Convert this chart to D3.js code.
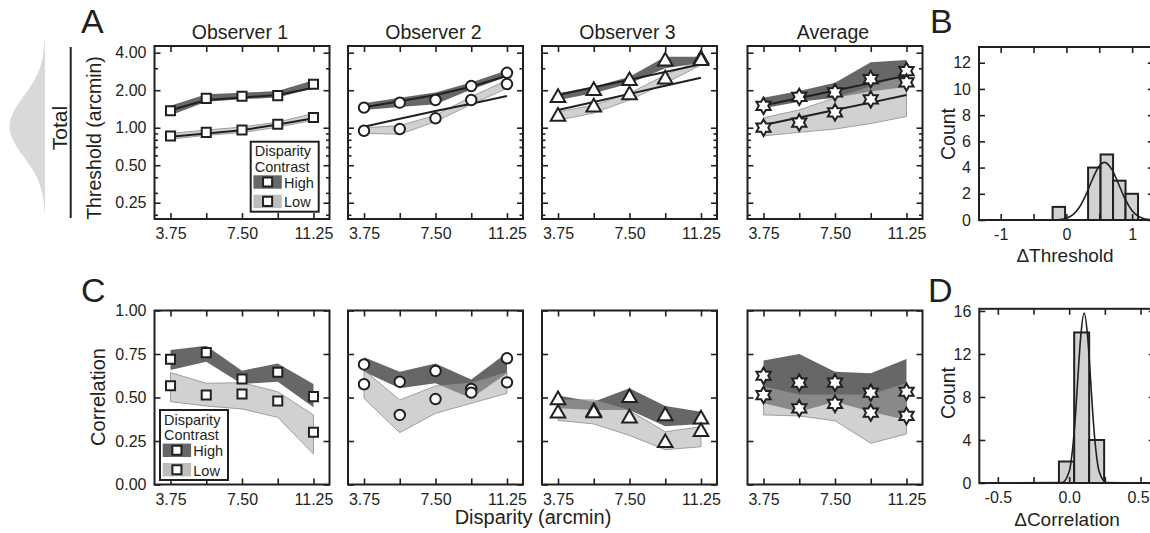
<!DOCTYPE html>
<html>
<head>
<meta charset="utf-8">
<script src="https://cdn.jsdelivr.net/npm/d3@7"></script>
<style>
  body { margin: 0; background: #fff; }
  svg text { font-family: "Liberation Sans", Arial, Helvetica, sans-serif; fill: #231f20; }
</style>
</head>
<body>
<div id="chart"></div>
<script>
// values
const disparities = [3.75, 5.625, 7.5, 9.375, 11.25];
const xTickLabels = ["3.75", "", "7.50", "", "11.25"];
const observers = ["Observer 1", "Observer 2", "Observer 3", "Average"];
const markerTypes = ["square", "circle", "triangle", "star"];

const thrTicks = [0.25, 0.5, 1, 2, 4];
const thrTickLabels = ["0.25", "0.50", "1.00", "2.00", "4.00"];
const thrMinorTicks = [0.2, 0.3, 0.4, 0.6, 0.7, 0.8, 0.9, 3];
const corTicks = [0, 0.25, 0.5, 0.75, 1];
const corTickLabels = ["0.00", "0.25", "0.50", "0.75", "1.00"];

// threshold (arcmin), one row per observer
const thrHigh = [
  [1.37, 1.72, 1.79, 1.81, 2.23],
  [1.45, 1.59, 1.67, 2.16, 2.76],
  [1.74, 1.98, 2.38, 3.42, 3.55],
  [1.50, 1.77, 1.92, 2.46, 2.85]
];
const thrHighLo = [
  [1.26, 1.62, 1.69, 1.75, 2.07],
  [1.39, 1.47, 1.54, 2.03, 2.57],
  [1.67, 1.89, 2.27, 3.00, 3.31],
  [1.43, 1.62, 1.74, 1.95, 2.13]
];
const thrHighHi = [
  [1.50, 1.86, 1.91, 1.97, 2.41],
  [1.57, 1.74, 1.92, 2.31, 2.90],
  [1.89, 2.13, 2.57, 3.72, 3.72],
  [1.74, 1.97, 2.30, 3.35, 3.50]
];
const thrHighFit = [
  [1.38, 1.67, 1.75, 1.83, 2.09],
  [1.46, 1.63, 1.83, 2.13, 2.61],
  [1.83, 2.11, 2.43, 2.80, 3.23],
  [1.51, 1.73, 1.99, 2.28, 2.61]
];
const thrLow = [
  [0.858, 0.918, 0.958, 1.065, 1.21],
  [0.946, 0.976, 1.19, 1.67, 2.24],
  [1.23, 1.46, 1.83, 2.45, 3.45],
  [1.00, 1.10, 1.33, 1.69, 2.31]
];
const thrLowLo = [
  [0.81, 0.869, 0.912, 1.01, 1.15],
  [0.90, 0.885, 1.12, 1.54, 2.07],
  [1.15, 1.31, 1.67, 2.27, 3.19],
  [0.86, 0.918, 0.976, 1.08, 1.23]
];
const thrLowHi = [
  [0.90, 0.958, 1.013, 1.11, 1.30],
  [1.00, 1.04, 1.26, 1.77, 2.41],
  [1.34, 1.52, 1.89, 2.65, 3.50],
  [1.20, 1.39, 1.74, 2.13, 2.65]
];
const thrLowFit = [
  [0.845, 0.90, 0.955, 1.06, 1.19],
  [1.02, 1.18, 1.36, 1.56, 1.80],
  [1.39, 1.61, 1.87, 2.17, 2.52],
  [1.05, 1.21, 1.39, 1.59, 1.83]
];

// correlation
const corHigh = [
  [0.72, 0.758, 0.606, 0.645, 0.505],
  [0.69, 0.591, 0.652, 0.549, 0.725],
  [0.486, 0.418, 0.499, 0.394, 0.375],
  [0.625, 0.585, 0.585, 0.528, 0.533]
];
const corHighLo = [
  [0.658, 0.706, 0.578, 0.591, 0.444],
  [0.648, 0.553, 0.582, 0.495, 0.64],
  [0.438, 0.428, 0.428, 0.335, 0.348],
  [0.467, 0.418, 0.476, 0.418, 0.371]
];
const corHighHi = [
  [0.773, 0.798, 0.654, 0.696, 0.578],
  [0.731, 0.648, 0.696, 0.604, 0.757],
  [0.511, 0.476, 0.553, 0.451, 0.418],
  [0.712, 0.75, 0.648, 0.639, 0.721]
];
const corLow = [
  [0.568, 0.514, 0.52, 0.48, 0.30],
  [0.576, 0.40, 0.491, 0.528, 0.587],
  [0.409, 0.411, 0.381, 0.239, 0.303],
  [0.514, 0.438, 0.463, 0.413, 0.394]
];
const corLowLo = [
  [0.476, 0.451, 0.434, 0.386, 0.175],
  [0.495, 0.298, 0.409, 0.467, 0.524],
  [0.368, 0.348, 0.282, 0.20, 0.217],
  [0.40, 0.394, 0.366, 0.237, 0.29]
];
const corLowHi = [
  [0.643, 0.582, 0.585, 0.533, 0.40],
  [0.658, 0.486, 0.566, 0.582, 0.643],
  [0.486, 0.486, 0.425, 0.303, 0.332],
  [0.562, 0.514, 0.514, 0.514, 0.582]
];

// histograms
const bBins = [[-0.21, -0.02], [0.33, 0.52], [0.52, 0.71], [0.71, 0.90], [0.90, 1.09]];
const bCounts = [1, 4, 5, 3, 2];
const bFit = [[-0.4, 0], [-0.1, 0.04], [0, 0.14], [0.1, 0.41], [0.2, 0.99], [0.3, 1.96], [0.4, 3.15],
  [0.5, 4.12], [0.58, 4.4], [0.7, 3.79], [0.8, 2.67], [0.9, 1.53], [1.0, 0.71], [1.1, 0.27], [1.2, 0.08], [1.33, 0.02]];
const bXTicks = [-1, -0.5, 0, 0.5, 1];
const bXLabels = ["-1", "", "0", "", "1"];
const bYTicks = [0, 2, 4, 6, 8, 10, 12];

const dBins = [[-0.072, 0.035], [0.035, 0.14], [0.14, 0.245]];
const dCounts = [2, 14, 4];
const dFit = [[-0.63, 0], [-0.05, 0.04], [0, 1.06], [0.015, 2.18], [0.03, 4.0], [0.045, 6.5], [0.06, 9.6],
  [0.08, 13.5], [0.105, 15.8], [0.13, 13.5], [0.15, 9.6], [0.165, 6.5], [0.18, 4.0], [0.195, 2.18],
  [0.21, 1.06], [0.26, 0.04], [0.6, 0]];
const dXTicks = [-0.5, -0.25, 0, 0.25, 0.5];
const dXLabels = ["-0.5", "", "0.0", "", "0.5"];
const dYTicks = [0, 4, 8, 12, 16];

// "Total" distribution sketch at far left
const totalZ = [-3, -2.5, -2, -1.5, -1, -0.5, 0, 0.5, 1, 1.5, 2, 2.5, 3];
const totalDensity = [0.01, 0.04, 0.13, 0.32, 0.61, 0.88, 1, 0.88, 0.61, 0.32, 0.13, 0.04, 0.01];

const ink = "#231f20";
const darkBand = "#666769";
const lightBand = "#a9a9a9";
const panelLeft = [154.5, 348, 542, 747.5];
const panelW = 175;

const svg = d3.select("#chart").append("svg")
  .attr("width", 1150)
  .attr("height", 533);

const yThr = d3.scaleLog().domain([0.185, 4.53]).range([219, 46]);
const yCor = d3.scaleLinear().domain([0, 1]).range([484.5, 310.5]);

function hexagram(R) {
  const pts = d3.range(12).map(k => {
    const a = -Math.PI / 2 + k * Math.PI / 6;
    const r = k % 2 === 0 ? R : R / Math.sqrt(3);
    return [r * Math.cos(a), r * Math.sin(a)];
  });
  return "M" + pts.map(p => p.join(",")).join("L") + "Z";
}

const markerPath = {
  square: d3.symbol(d3.symbolSquare, 82)(),
  circle: d3.symbol(d3.symbolCircle, 86)(),
  triangle: d3.symbol(d3.symbolTriangle, 92)(),
  star: hexagram(8.2)
};

function addAxis(g, axis, transform, fontSize) {
  const a = g.append("g").attr("transform", transform).call(axis);
  a.select(".domain").remove();
  a.attr("font-size", fontSize).attr("font-family", null).attr("color", ink);
  a.selectAll(".tick line").attr("stroke-width", 1.6);
  return a;
}

function drawFrame(x, y, o) {
  const [l, r] = x.range();
  const [b, t] = y.range();
  const g = svg.append("g");
  const bottom = addAxis(g, d3.axisBottom(x).tickValues(o.xTicks).tickSize(-6).tickPadding(9)
    .tickFormat((d, i) => o.xLabels[i]), `translate(0,${b})`, 16);
  if (o.lastLabelShift) bottom.selectAll(".tick text").filter((d, i, n) => i === n.length - 1).attr("dx", o.lastLabelShift);
  addAxis(g, d3.axisTop(x).tickValues(o.xTicks).tickSize(-6).tickFormat(""), `translate(0,${t})`, 16);
  addAxis(g, d3.axisLeft(y).tickValues(o.yTicks).tickSize(-6).tickPadding(8)
    .tickFormat((d, i) => o.yLabels ? o.yLabels[i] : ""), `translate(${l},0)`, 16);
  addAxis(g, d3.axisRight(y).tickValues(o.yTicks).tickSize(-6).tickFormat(""), `translate(${r},0)`, 16);
  if (o.yMinor) {
    addAxis(g, d3.axisLeft(y).tickValues(o.yMinor).tickSize(-3.5).tickFormat(""), `translate(${l},0)`, 16);
    addAxis(g, d3.axisRight(y).tickValues(o.yMinor).tickSize(-3.5).tickFormat(""), `translate(${r},0)`, 16);
  }
  g.append("rect")
    .attr("x", l).attr("y", t)
    .attr("width", r - l).attr("height", b - t)
    .attr("fill", "none")
    .attr("stroke", ink)
    .attr("stroke-width", 2);
}

function drawBand(g, x, y, lo, hi, fill, opacity, stroke) {
  const area = d3.area()
    .x((d, i) => x(disparities[i]))
    .y0((d, i) => y(lo[i]))
    .y1((d, i) => y(hi[i]));
  g.append("path")
    .attr("d", area(lo))
    .attr("fill", fill)
    .attr("fill-opacity", opacity)
    .attr("stroke", stroke)
    .attr("stroke-width", 0.8);
}

function drawMarkers(g, x, y, vals, type) {
  g.selectAll(null)
    .data(vals)
    .enter()
    .append("path")
    .attr("d", markerPath[type])
    .attr("transform", (d, i) => `translate(${x(disparities[i])},${y(d)})`)
    .attr("fill", "#fff")
    .attr("stroke", ink)
    .attr("stroke-width", 2);
}

function drawLegend(ox, oy) {
  const g = svg.append("g").attr("transform", `translate(${ox},${oy})`);
  g.append("rect").attr("width", 68).attr("height", 70)
    .attr("fill", "#fff").attr("stroke", ink).attr("stroke-width", 2);
  g.append("text").attr("x", 4).attr("y", 14.5).attr("font-size", 14.5).text("Disparity");
  g.append("text").attr("x", 4).attr("y", 30).attr("font-size", 14.5).text("Contrast");
  const rows = [["High", darkBand, 33.6], ["Low", "#bdbdbd", 53]];
  rows.forEach(([label, col, yy]) => {
    g.append("rect").attr("x", 2.7).attr("y", yy).attr("width", 28.4).attr("height", 13.4).attr("fill", col);
    g.append("path").attr("d", markerPath.square)
      .attr("transform", `translate(16.9,${yy + 6.7})`)
      .attr("fill", "#fff").attr("stroke", ink).attr("stroke-width", 2);
    g.append("text").attr("x", 33.3).attr("y", yy + 12.5).attr("font-size", 14.5).text(label);
  });
}

const line = (x, y) => d3.line().x((d, i) => x(disparities[i])).y(d => y(d));

observers.forEach((name, i) => {
  const left = panelLeft[i];
  const x = d3.scaleLinear().domain([2.91, 12.09]).range([left, left + panelW]);

  // threshold row
  const gt = svg.append("g");
  drawBand(gt, x, yThr, thrHighLo[i], thrHighHi[i], darkBand, 1, "none");
  drawBand(gt, x, yThr, thrLowLo[i], thrLowHi[i], lightBand, 0.53, "#8c8c8c");
  [thrHighFit[i], thrLowFit[i]].forEach(f => {
    gt.append("path").attr("d", line(x, yThr)(f))
      .attr("fill", "none").attr("stroke", ink).attr("stroke-width", 2);
  });
  drawMarkers(gt, x, yThr, thrHigh[i], markerTypes[i]);
  drawMarkers(gt, x, yThr, thrLow[i], markerTypes[i]);
  drawFrame(x, yThr, {
    xTicks: disparities, xLabels: xTickLabels,
    yTicks: thrTicks, yLabels: i === 0 ? thrTickLabels : null, yMinor: thrMinorTicks
  });
  svg.append("text")
    .attr("x", left + panelW / 2 - 2).attr("y", 39)
    .attr("text-anchor", "middle").attr("font-size", 19.5)
    .text(name);

  // correlation row
  const gc = svg.append("g");
  drawBand(gc, x, yCor, corHighLo[i], corHighHi[i], darkBand, 1, "none");
  drawBand(gc, x, yCor, corLowLo[i], corLowHi[i], lightBand, 0.53, "#8c8c8c");
  drawMarkers(gc, x, yCor, corHigh[i], markerTypes[i]);
  drawMarkers(gc, x, yCor, corLow[i], markerTypes[i]);
  drawFrame(x, yCor, {
    xTicks: disparities, xLabels: xTickLabels,
    yTicks: corTicks, yLabels: i === 0 ? corTickLabels : null
  });
});

drawLegend(250.7, 141.7);
drawLegend(160, 410);

// histograms
function drawHist(x, y, bins, counts, fit, o) {
  const g = svg.append("g");
  g.selectAll(null)
    .data(bins)
    .enter()
    .append("rect")
    .attr("x", d => x(d[0]))
    .attr("width", d => x(d[1]) - x(d[0]))
    .attr("y", (d, i) => y(counts[i]))
    .attr("height", (d, i) => y(0) - y(counts[i]))
    .attr("fill", "#d1d2d4")
    .attr("stroke", ink)
    .attr("stroke-width", 2);
  g.append("path")
    .attr("d", d3.line().curve(d3.curveMonotoneX).x(d => x(d[0])).y(d => y(d[1]))(fit))
    .attr("fill", "none")
    .attr("stroke", ink)
    .attr("stroke-width", 1.6);
  drawFrame(x, y, o);
}

const xB = d3.scaleLinear().domain([-1.33, 1.33]).range([979, 1153.8]);
const yB = d3.scaleLinear().domain([0, 13.2]).range([220, 47]);
drawHist(xB, yB, bBins, bCounts, bFit, { xTicks: bXTicks, xLabels: bXLabels, yTicks: bYTicks, yLabels: bYTicks.map(String) });

const xD = d3.scaleLinear().domain([-0.63, 0.6]).range([979.3, 1154.8]);
const yD = d3.scaleLinear().domain([0, 16.2]).range([483, 308.8]);
drawHist(xD, yD, dBins, dCounts, dFit, { xTicks: dXTicks, xLabels: dXLabels, yTicks: dYTicks, yLabels: dYTicks.map(String), lastLabelShift: -2.5 });

// "Total" sketch
const yTot = d3.scaleLinear().domain([-3, 3]).range([40, 213]);
const xTot = d3.scaleLinear().domain([0, 1]).range([45, 8]);
svg.append("path")
  .attr("d", d3.area().curve(d3.curveBasis)
    .y((d, i) => yTot(totalZ[i]))
    .x0(xTot(0))
    .x1(d => xTot(d))(totalDensity))
  .attr("fill", "#d9d9d9");
svg.append("line")
  .attr("x1", 70.7).attr("x2", 70.7).attr("y1", 47).attr("y2", 218)
  .attr("stroke", ink).attr("stroke-width", 2);

// text labels
function vText(x, y, size, str) {
  svg.append("text")
    .attr("transform", `translate(${x},${y}) rotate(-90)`)
    .attr("text-anchor", "middle")
    .attr("font-size", size)
    .text(str);
}
vText(66.5, 128, 21, "Total");
vText(100.5, 138, 19.5, "Threshold (arcmin)");
vText(105, 397, 20, "Correlation");
vText(955, 134, 19.5, "Count");
vText(955, 393, 19.5, "Count");

const hText = (x, y, size, str, anchor = "middle") => svg.append("text")
  .attr("x", x).attr("y", y).attr("font-size", size).attr("text-anchor", anchor).text(str);
hText(533, 524, 20, "Disparity (arcmin)");
hText(1065, 262, 19, "\u0394Threshold");
hText(1067, 526, 19, "\u0394Correlation");
hText(81, 33, 34, "A", "start");
hText(930, 33, 34, "B", "start");
hText(81, 302, 34, "C", "start");
hText(928, 302, 34, "D", "start");
</script>
</body>
</html>
